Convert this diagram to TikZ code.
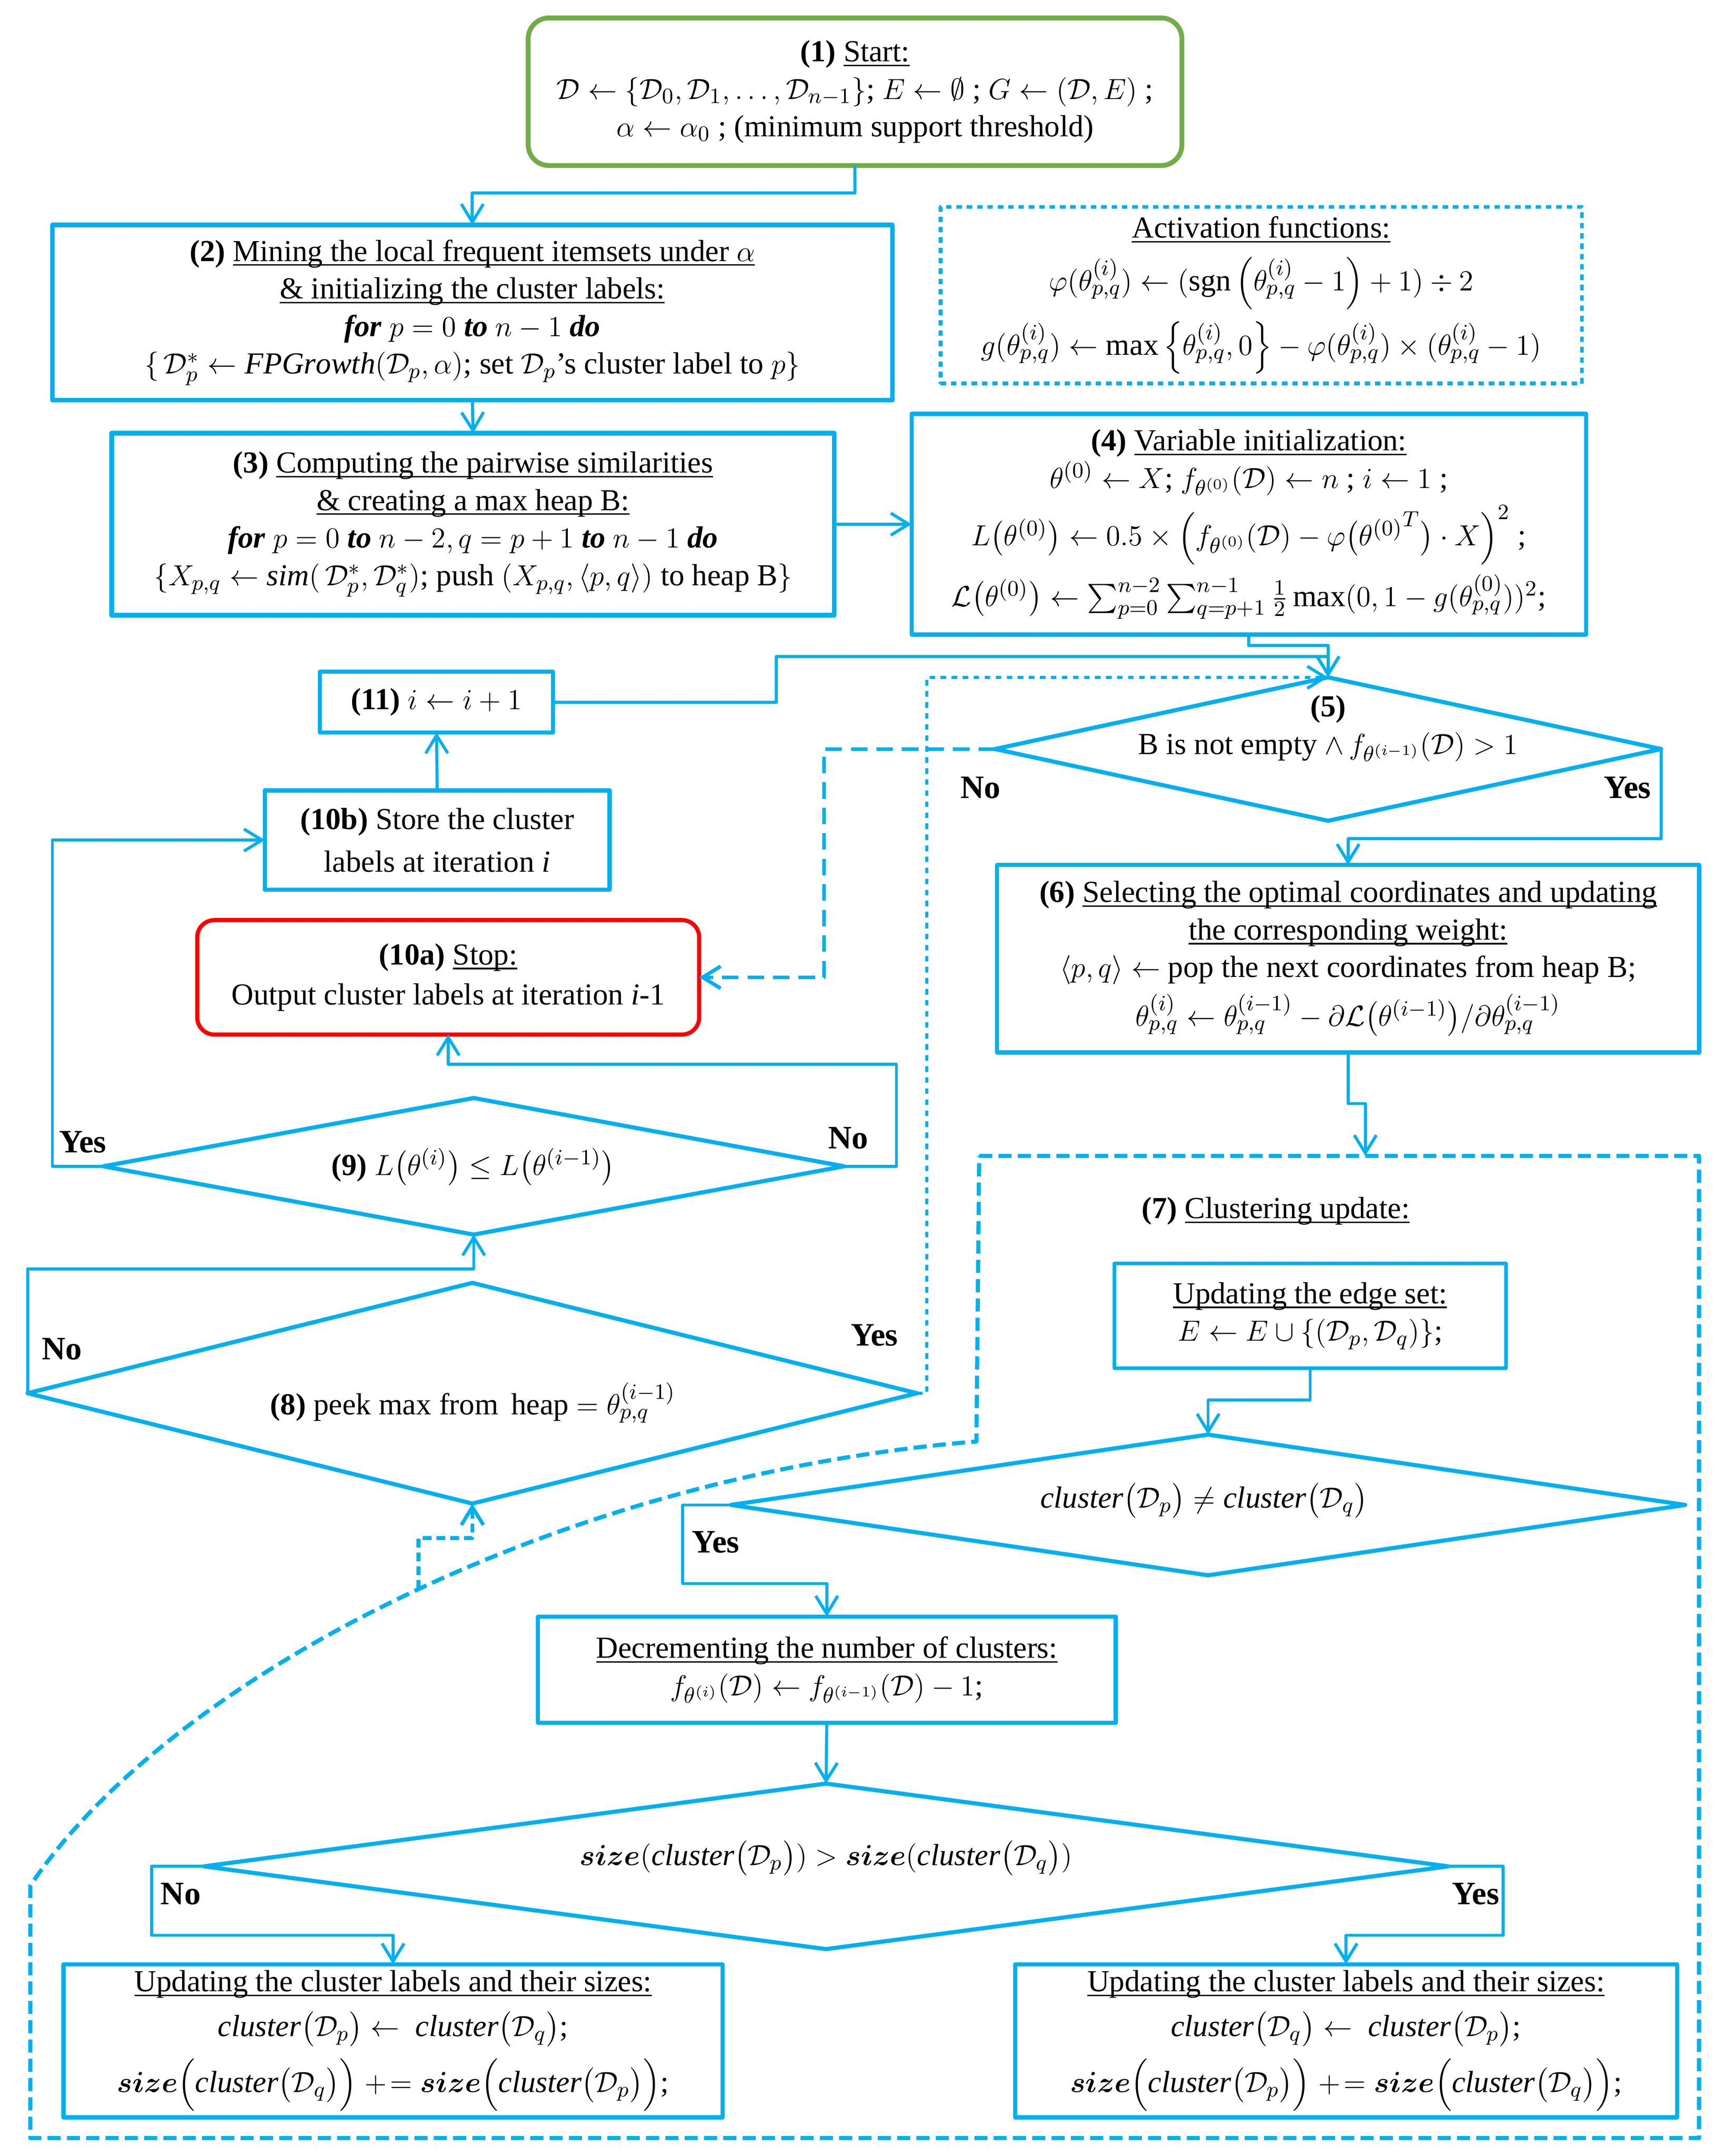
\documentclass[tikz,border=0pt]{standalone}
\usepackage{amsmath}
\usepackage{fontspec}
\setmainfont{Liberation Serif}
\usetikzlibrary{shapes.geometric,arrows.meta}
\definecolor{flowblue}{RGB}{0,176,240}
\definecolor{startgreen}{RGB}{112,173,71}
\definecolor{stopred}{RGB}{255,0,0}
\newsavebox{\ulbox}
\newcommand{\uln}[1]{\sbox{\ulbox}{#1}\leavevmode\rlap{\rule[-1.9pt]{\wd\ulbox}{0.6pt}}\usebox{\ulbox}}
\newcommand{\Dc}{\mathcal{D}}
\newcommand{\clu}{\mathit{cluster}}
\newcommand{\sz}{\boldsymbol{size}}
\newcommand{\tpq}[1]{\theta_{p,q}^{(#1)}}
\tikzset{
  box/.style={draw=flowblue, line width=1.7pt, align=center},
  wh/.style 2 args={minimum width=#1*0.2mm, minimum height=#2*0.2mm},
  dec/.style={diamond, draw=flowblue, line width=1.7pt},
  txt/.style={align=center},
  lbl/.style={font=\fontsize{13.5}{15}\selectfont\bfseries},
  arr/.style={draw=flowblue, line width=1.25pt, -{Straight Barb[length=2.6mm,width=3.2mm]}},
}
\begin{document}
\begin{tikzpicture}[x=0.2mm, y=-0.2mm, line join=round, inner sep=0pt, outer sep=0pt,
  every node/.append style={font=\fontsize{12.6}{15.5}\selectfont}]
\useasboundingbox (0,0) rectangle (1250,1563);

% Start
\node[box, draw=startgreen, line width=2pt, rounded corners=3mm, wh={474}{107}] (start) at (620,66.5)
  {\textbf{(1)} \uln{Start:}\\ $\Dc\leftarrow\{\Dc_0,\Dc_1,\dots,\Dc_{n-1}\}$; $E\leftarrow\emptyset$ ; $G\leftarrow(\Dc,E)$ ;\\ $\alpha\leftarrow\alpha_0$ ; (minimum support threshold)};

% Mining and similarities
\node[box, line width=1.9pt, wh={609}{127}] (mine) at (342.5,226.5)
  {\textbf{(2)} \uln{Mining the local frequent itemsets under $\alpha$}\\ \uln{\& initializing the cluster labels:}\\ \textbf{\textit{for}} $p=0$ \textbf{\textit{to}} $n-1$ \textbf{\textit{do}}\\ $\{\,\Dc_p^*\leftarrow\mathit{FPGrowth}(\Dc_p,\alpha)$; set $\Dc_p$'s cluster label to $p\}$};
\node[box, line width=1.9pt, wh={524}{132}] (simil) at (343,380)
  {\textbf{(3)} \uln{Computing the pairwise similarities}\\ \uln{\& creating a max heap B:}\\ \textbf{\textit{for}} $p=0$ \textbf{\textit{to}} $n-2,q=p+1$ \textbf{\textit{to}} $n-1$ \textbf{\textit{do}}\\ $\{X_{p,q}\leftarrow\mathit{sim}(\,\Dc_p^*,\Dc_q^*)$; push $(X_{p,q},\langle p,q\rangle)$ to heap B$\}$};

% Activation functions and initialization
\node[box, line width=1.5pt, dash pattern=on 0.8mm off 0.7mm, wh={465}{128}] (actv) at (914.5,214)
  {\uln{Activation functions:}\\[5pt] $\varphi(\tpq{i})\leftarrow(\mathrm{sgn}\left(\tpq{i}-1\right)+1)\div2$\\[4pt] $g(\tpq{i})\leftarrow\max\left\{\tpq{i},0\right\}-\varphi(\tpq{i})\times(\tpq{i}-1)$};
\node[box, wh={489}{160}] (init) at (905.5,380)
  {\textbf{(4)} \uln{Variable initialization:}\\ $\theta^{(0)}\leftarrow X$; $f_{\theta^{(0)}}(\Dc)\leftarrow n$ ; $i\leftarrow1$ ;\\[3pt] $L\bigl(\theta^{(0)}\bigr)\leftarrow0.5\times\left(f_{\theta^{(0)}}(\Dc)-\varphi\bigl({\theta^{(0)}}^{T}\bigr)\cdot X\right)^{2}$ ;\\[3pt] $\mathcal{L}\bigl(\theta^{(0)}\bigr)\leftarrow\sum_{p=0}^{n-2}\sum_{q=p+1}^{n-1}\frac{1}{2}\max(0,1-g(\tpq{0}))^2$;};

% Loop test
\node[dec, wh={483}{104}] (cond) at (963,543) {};
\node[txt] (cond-t) at (963,528) {\textbf{(5)}\\ B is not empty $\land\, f_{\theta^{(i-1)}}(\Dc)>1$};
\node[box, wh={509}{136}] (sel) at (977.5,695)
  {\textbf{(6)} \uln{Selecting the optimal coordinates and updating}\\ \uln{the corresponding weight:}\\ $\langle p,q\rangle\leftarrow$ pop the next coordinates from heap B;\\[3pt] $\tpq{i}\leftarrow\tpq{i-1}-\partial\mathcal{L}\bigl(\theta^{(i-1)}\bigr)/\partial\tpq{i-1}$};

% Clustering update region
\draw[flowblue, line width=1.7pt, dash pattern=on 1.9mm off 0.9mm]
  (710,838) -- (1232,838) -- (1232,1550) -- (22,1550) -- (22,1367)
  .. controls (120,1220) and (400,1070) .. (708,1045) coordinate[pos=0.5235] (c7) -- cycle;
\coordinate (r7) at (990,838);
\node[txt] (t7) at (925,878) {\textbf{(7)} \uln{Clustering update:}};
\node[box, line width=1.5pt, wh={284}{76}] (edge) at (950,954)
  {\uln{Updating the edge set:}\\ $E\leftarrow E\cup\left\{(\Dc_p,\Dc_q)\right\}$;};
\node[dec, wh={692}{102}] (neq) at (876,1091) {};
\node[txt] (neq-t) at (873,1088) {$\clu\bigl(\Dc_p\bigr)\neq\clu\bigl(\Dc_q\bigr)$};
\node[box, wh={419}{77}] (dec) at (599.5,1210.5)
  {\uln{Decrementing the number of clusters:}\\ $f_{\theta^{(i)}}(\Dc)\leftarrow f_{\theta^{(i-1)}}(\Dc)-1$;};
\node[dec, wh={902}{120}] (cmp) at (599,1353) {};
\node[txt] (cmp-t) at (599,1347) {$\sz(\clu\bigl(\Dc_p\bigr))>\sz(\clu\bigl(\Dc_q\bigr))$};
\node[box, wh={478}{111}] (updl) at (285,1479.5)
  {\uln{Updating the cluster labels and their sizes:}\\[3pt] $\clu\bigl(\Dc_p\bigr)\leftarrow\ \clu\bigl(\Dc_q\bigr)$;\\[4pt] $\sz\Bigl(\clu\bigl(\Dc_q\bigr)\Bigr)\mathrel{+\!=}\sz\Bigl(\clu\bigl(\Dc_p\bigr)\Bigr)$;};
\node[box, wh={480}{111}] (updr) at (976,1479.5)
  {\uln{Updating the cluster labels and their sizes:}\\[3pt] $\clu\bigl(\Dc_q\bigr)\leftarrow\ \clu\bigl(\Dc_p\bigr)$;\\[4pt] $\sz\Bigl(\clu\bigl(\Dc_p\bigr)\Bigr)\mathrel{+\!=}\sz\Bigl(\clu\bigl(\Dc_q\bigr)\Bigr)$;};

% Left column
\node[dec, wh={645}{160}] (peek) at (342.5,1010) {};
\node[txt] (peek-t) at (343,1017) {\textbf{(8)} peek max from\, heap $=\tpq{i-1}$};
\node[dec, wh={537}{99}] (nine) at (343.5,845.5) {};
\node[txt] (nine-t) at (343,846) {\textbf{(9)} $L\bigl(\theta^{(i)}\bigr)\leq L\bigl(\theta^{(i-1)}\bigr)$};
\node[box, draw=stopred, rounded corners=2.5mm, wh={364}{83}] (stop) at (325,708.5)
  {\textbf{(10a)} \uln{Stop:}\\[1pt] Output cluster labels at iteration \textit{i}-1};
\node[box, wh={250}{72}] (store) at (317,609) {\textbf{(10b)} Store the cluster\\[2pt] labels at iteration \textit{i}};
\node[box, wh={169}{44}] (eleven) at (316.5,509) {\textbf{(11)} $i\leftarrow i+1$};

% Yes / No
\node[lbl] (l5n) at (711,571) {No};
\node[lbl] (l5y) at (1180,571) {Yes};
\node[lbl] (l9y) at (60,828) {Yes};
\node[lbl] (l9n) at (615,825) {No};
\node[lbl] (l8n) at (45,978) {No};
\node[lbl] (l8y) at (634,968) {Yes};
\node[lbl] (lqy) at (519,1118) {Yes};
\node[lbl] (lsn) at (131,1373) {No};
\node[lbl] (lsy) at (1070,1373) {Yes};

% Connectors
\coordinate (j5) at (563,476);
\draw[arr] (start.south) -- ++(0,20) -| (mine.north);
\draw[arr] (mine.south) -- (simil.north);
\draw[arr] (simil.east) -- (init.west);
\draw[arr] (init.south) -- ++(0,8) -| (cond.north);
\draw[arr] (eleven.east) -| (j5) -| (cond.north);
\draw[arr, dash pattern=on 0.8mm off 0.8mm] (peek.east) -- ++(7,0) |- (cond.north);
\draw[arr, line width=1.5pt, dash pattern=on 2.4mm off 1.3mm] (cond.west) -- ++(-124,0) |- (stop.east);
\draw[arr] (cond.east) -- ++(0,65) -| (sel.north);
\draw[arr] (sel.south) -- ++(0,37) -| (r7);
\draw[arr] (edge.south) -- ++(0,23) -| (neq.north);
\draw[arr] (neq.west) -- ++(-35,0) -- ++(0,57) -| (dec.north);
\draw[arr] (dec.south) -- (cmp.north);
\draw[arr] (cmp.west) -- ++(-38,0) -- ++(0,50) -| (updl.north);
\draw[arr] (cmp.east) -- ++(40,0) -- ++(0,50) -| (updr.north);
\draw[arr, line width=1.5pt, dash pattern=on 1.3mm off 0.7mm] (c7) -- ++(0,-37) -| (peek.south);
\draw[arr] (peek.west) -- ++(0,-90) -| (nine.south);
\draw[arr] (nine.west) -- ++(-37,0) |- (store.west);
\draw[arr] (nine.east) -- ++(38,0) -- ++(0,-74) -| (stop.south);
\draw[arr] (store.north) -- (eleven.south);

\end{tikzpicture}
\end{document}
